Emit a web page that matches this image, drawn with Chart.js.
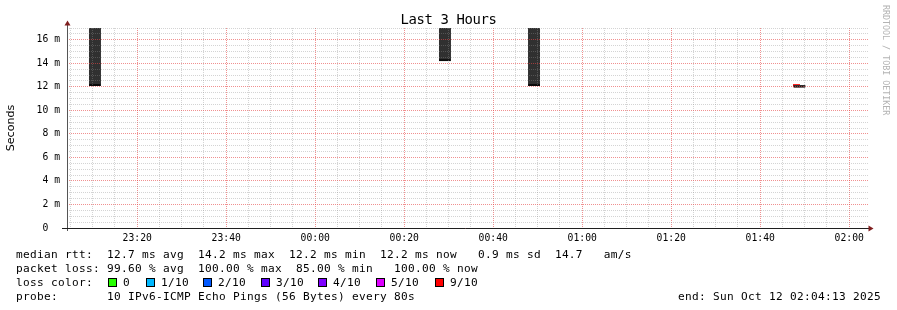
<!DOCTYPE html>
<html>
<head>
<meta charset="utf-8">
<script src="https://cdn.jsdelivr.net/npm/chart.js@4.4.1/dist/chart.umd.min.js"></script>
<style>
html,body{margin:0;padding:0;background:#fff;}
#wrap{position:relative;width:897px;height:310px;overflow:hidden;background:#fff;}
#c{position:absolute;left:0;top:0;}
.t{position:absolute;white-space:pre;font-family:'DejaVu Sans Mono',monospace;color:#000;}
.leg{font-size:11.11px;letter-spacing:0.31px;line-height:14px;}
#title{left:0;width:897px;text-align:center;top:11px;font-size:13.9px;letter-spacing:-0.35px;line-height:16px;}
#wm{left:881px;top:5px;font-size:8.33px;line-height:10px;color:#b3b3b3;writing-mode:vertical-rl;}
.box{position:absolute;width:9px;height:9px;box-sizing:border-box;border:1px solid #000;}
</style>
</head>
<body>
<div id="wrap">
<canvas id="c" width="897" height="310"></canvas>
<div class="t" id="title"></div>
<div class="t" id="wm"></div>
<div id="legend"></div>
</div>
<script>
// ---- data ----
const titleText = 'Last 3 Hours';
const yAxisTitle = 'Seconds';
const watermark = 'RRDTOOL / TOBI OETIKER';
const startTime = '23:04:13';
const endTime = '02:04:13';
const yMax = 17.0;
const yTickStep = 0.5;
const yLabelStep = 2;
const xTickStep = 5;
const xLabelStep = 20;

// smoke (ping spread) per sample, values in ms
const smokeTimes = ['23:10:30', '00:29:09', '00:49:10', '01:48:49'];
const smokeLow   = [12.1, 14.2, 12.1, 11.95];
const smokeHigh  = [18.0, 18.0, 18.0, 12.15];

// median rtt markers, coloured by loss (lost pings out of 10)
const medianTimes  = ['01:48:09'];
const medianValues = [12.1];
const medianLoss   = [9];

const lossLabels = ['0', '1/10', '2/10', '3/10', '4/10', '5/10', '9/10'];
const lossCounts = [0, 1, 2, 3, 4, 5, 9];
const lossColors = ['#26ff00', '#00b8ff', '#0059ff', '#5e00ff', '#7e00ff', '#dd00ff', '#ff0000'];

const statLines = [
  'median rtt:  12.7 ms avg  14.2 ms max  12.2 ms min  12.2 ms now   0.9 ms sd  14.7   am/s',
  'packet loss: 99.60 % avg  100.00 % max  85.00 % min   100.00 % now'
];
const lossCaption = 'loss color:';
const probeLine = 'probe:       10 IPv6-ICMP Echo Pings (56 Bytes) every 80s';
const endLine = 'end: Sun Oct 12 02:04:13 2025';

// ---- helpers ----
const toMin = s => {
  const [h, m, sec] = s.split(':').map(Number);
  let v = h * 60 + m + sec / 60;
  if (h < 12) v += 1440;
  return v;
};
const fmtTime = v => {
  const m = ((Math.round(v) % 1440) + 1440) % 1440;
  const hh = String(Math.floor(m / 60)).padStart(2, '0');
  const mm = String(m % 60).padStart(2, '0');
  return hh + ':' + mm;
};
const lossColor = l => {
  const i = lossCounts.indexOf(l);
  return i >= 0 ? lossColors[i] : '#000000';
};
const xMin = toMin(startTime), xMax = toMin(endTime);
const isMultiple = (v, s) => Math.abs(v / s - Math.round(v / s)) < 1e-6;
const xTickValues = [];
for (let v = Math.ceil(xMin / xTickStep) * xTickStep; v <= xMax; v += xTickStep) xTickValues.push(v);
const yTickValues = [];
for (let k = 0; k * yTickStep <= yMax + 1e-9; k++) yTickValues.push(k * yTickStep);

const minorGrid = 'rgba(143,143,143,0.38)';
const majorGrid = 'rgba(230,70,70,0.6)';
const MONO = "'DejaVu Sans Mono', monospace";

// ---- text ----
document.getElementById('title').textContent = titleText;
document.getElementById('wm').textContent = watermark;
const legend = document.getElementById('legend');
function addText(txt, left, top, extra) {
  const d = document.createElement('div');
  d.className = 't leg';
  d.textContent = txt;
  d.style.top = top + 'px';
  if (left !== null) d.style.left = left + 'px';
  if (extra) Object.assign(d.style, extra);
  legend.appendChild(d);
  return d;
}
addText(statLines[0], 16, 248);
addText(statLines[1], 16, 262);
addText(lossCaption, 16, 276);
const boxLefts = [108, 146, 203, 261, 318, 376, 435];
lossLabels.forEach((lab, i) => {
  const b = document.createElement('div');
  b.className = 'box';
  b.style.left = boxLefts[i] + 'px';
  b.style.top = '278px';
  b.style.background = lossColors[i];
  legend.appendChild(b);
  addText(lab, boxLefts[i] + 15, 276);
});
addText(probeLine, 16, 290);
addText(endLine, null, 290, {right: '16px'});

// ---- axes decoration ----
const axesPlugin = {
  id: 'rrdAxes',
  afterDraw(chart) {
    const {ctx, chartArea: a} = chart;
    ctx.save();
    ctx.lineWidth = 1;
    ctx.strokeStyle = '#555555';
    ctx.beginPath();
    ctx.moveTo(a.left + 0.5, a.bottom + 3);
    ctx.lineTo(a.left + 0.5, a.top - 3);
    ctx.stroke();
    ctx.strokeStyle = 'rgb(31,31,31)';
    ctx.beginPath();
    ctx.moveTo(a.left - 5, a.bottom + 0.5);
    ctx.lineTo(a.right + 1, a.bottom + 0.5);
    ctx.stroke();
    ctx.fillStyle = 'rgb(128,31,31)';
    ctx.beginPath();
    ctx.moveTo(a.left + 0.5 - 3, a.top - 2.5);
    ctx.lineTo(a.left + 0.5 + 3, a.top - 2.5);
    ctx.lineTo(a.left + 0.5, a.top - 7.5);
    ctx.closePath();
    ctx.fill();
    ctx.beginPath();
    ctx.moveTo(a.right + 0.5, a.bottom + 0.5 - 3);
    ctx.lineTo(a.right + 0.5, a.bottom + 0.5 + 3);
    ctx.lineTo(a.right + 5.5, a.bottom + 0.5);
    ctx.closePath();
    ctx.fill();
    ctx.restore();
  }
};

new Chart(document.getElementById('c'), {
  type: 'scatter',
  data: {
    datasets: [
      {
        type: 'bar',
        data: smokeTimes.map((t, i) => ({x: toMin(t), y: [smokeLow[i], smokeHigh[i]]})),
        backgroundColor: '#303030',
        borderColor: '#0a0a0a',
        borderWidth: {top: 0, left: 0, right: 0, bottom: 2},
        borderSkipped: false,
        barThickness: 12,
        grouped: false
      },
      {
        type: 'scatter',
        data: medianTimes.map((t, i) => ({x: toMin(t), y: medianValues[i]})),
        pointStyle: 'line',
        radius: 3.5,
        borderWidth: 3,
        borderColor: c => lossColor(medianLoss[c.dataIndex]),
        backgroundColor: c => lossColor(medianLoss[c.dataIndex])
      }
    ]
  },
  options: {
    responsive: false,
    animation: false,
    devicePixelRatio: 1,
    events: [],
    layout: {padding: {left: 0, right: 29, top: 28, bottom: 0}},
    plugins: {legend: {display: false}, tooltip: {enabled: false}, title: {display: false}},
    scales: {
      x: {
        type: 'linear',
        min: xMin,
        max: xMax,
        offset: false,
        afterBuildTicks: s => { s.ticks = xTickValues.map(v => ({value: v})); },
        afterFit: s => { s.height = 82; },
        ticks: {
          autoSkip: false, maxRotation: 0, minRotation: 0, padding: 5, color: '#000',
          font: {family: MONO, size: 9.72},
          callback: v => isMultiple(v, xLabelStep) ? fmtTime(v) : ''
        },
        grid: {
          z: 1, drawTicks: false, lineWidth: 1, offset: false,
          color: c => isMultiple(xTickValues[c.index] ?? 1, xLabelStep) ? majorGrid : minorGrid
        },
        border: {display: false, dash: [1, 1]}
      },
      y: {
        type: 'linear',
        min: 0,
        max: yMax,
        afterBuildTicks: s => { s.ticks = yTickValues.map(v => ({value: v})); },
        afterFit: s => { s.width = 67; },
        title: {
          display: true, text: yAxisTitle, color: '#000',
          font: {family: "'DejaVu Sans', sans-serif", size: 11.11}, padding: {top: 4, bottom: 0}
        },
        ticks: {
          autoSkip: false, padding: 7, color: '#000',
          font: {family: MONO, size: 9.72},
          callback: v => v === 0 ? '0  ' : (isMultiple(v, yLabelStep) ? v + ' m' : '')
        },
        grid: {
          z: 1, drawTicks: false, lineWidth: 1,
          color: c => isMultiple(yTickValues[c.index] ?? 1, yLabelStep) ? majorGrid : minorGrid
        },
        border: {display: false, dash: [1, 1]}
      }
    }
  },
  plugins: [axesPlugin]
});
</script>
</body>
</html>
